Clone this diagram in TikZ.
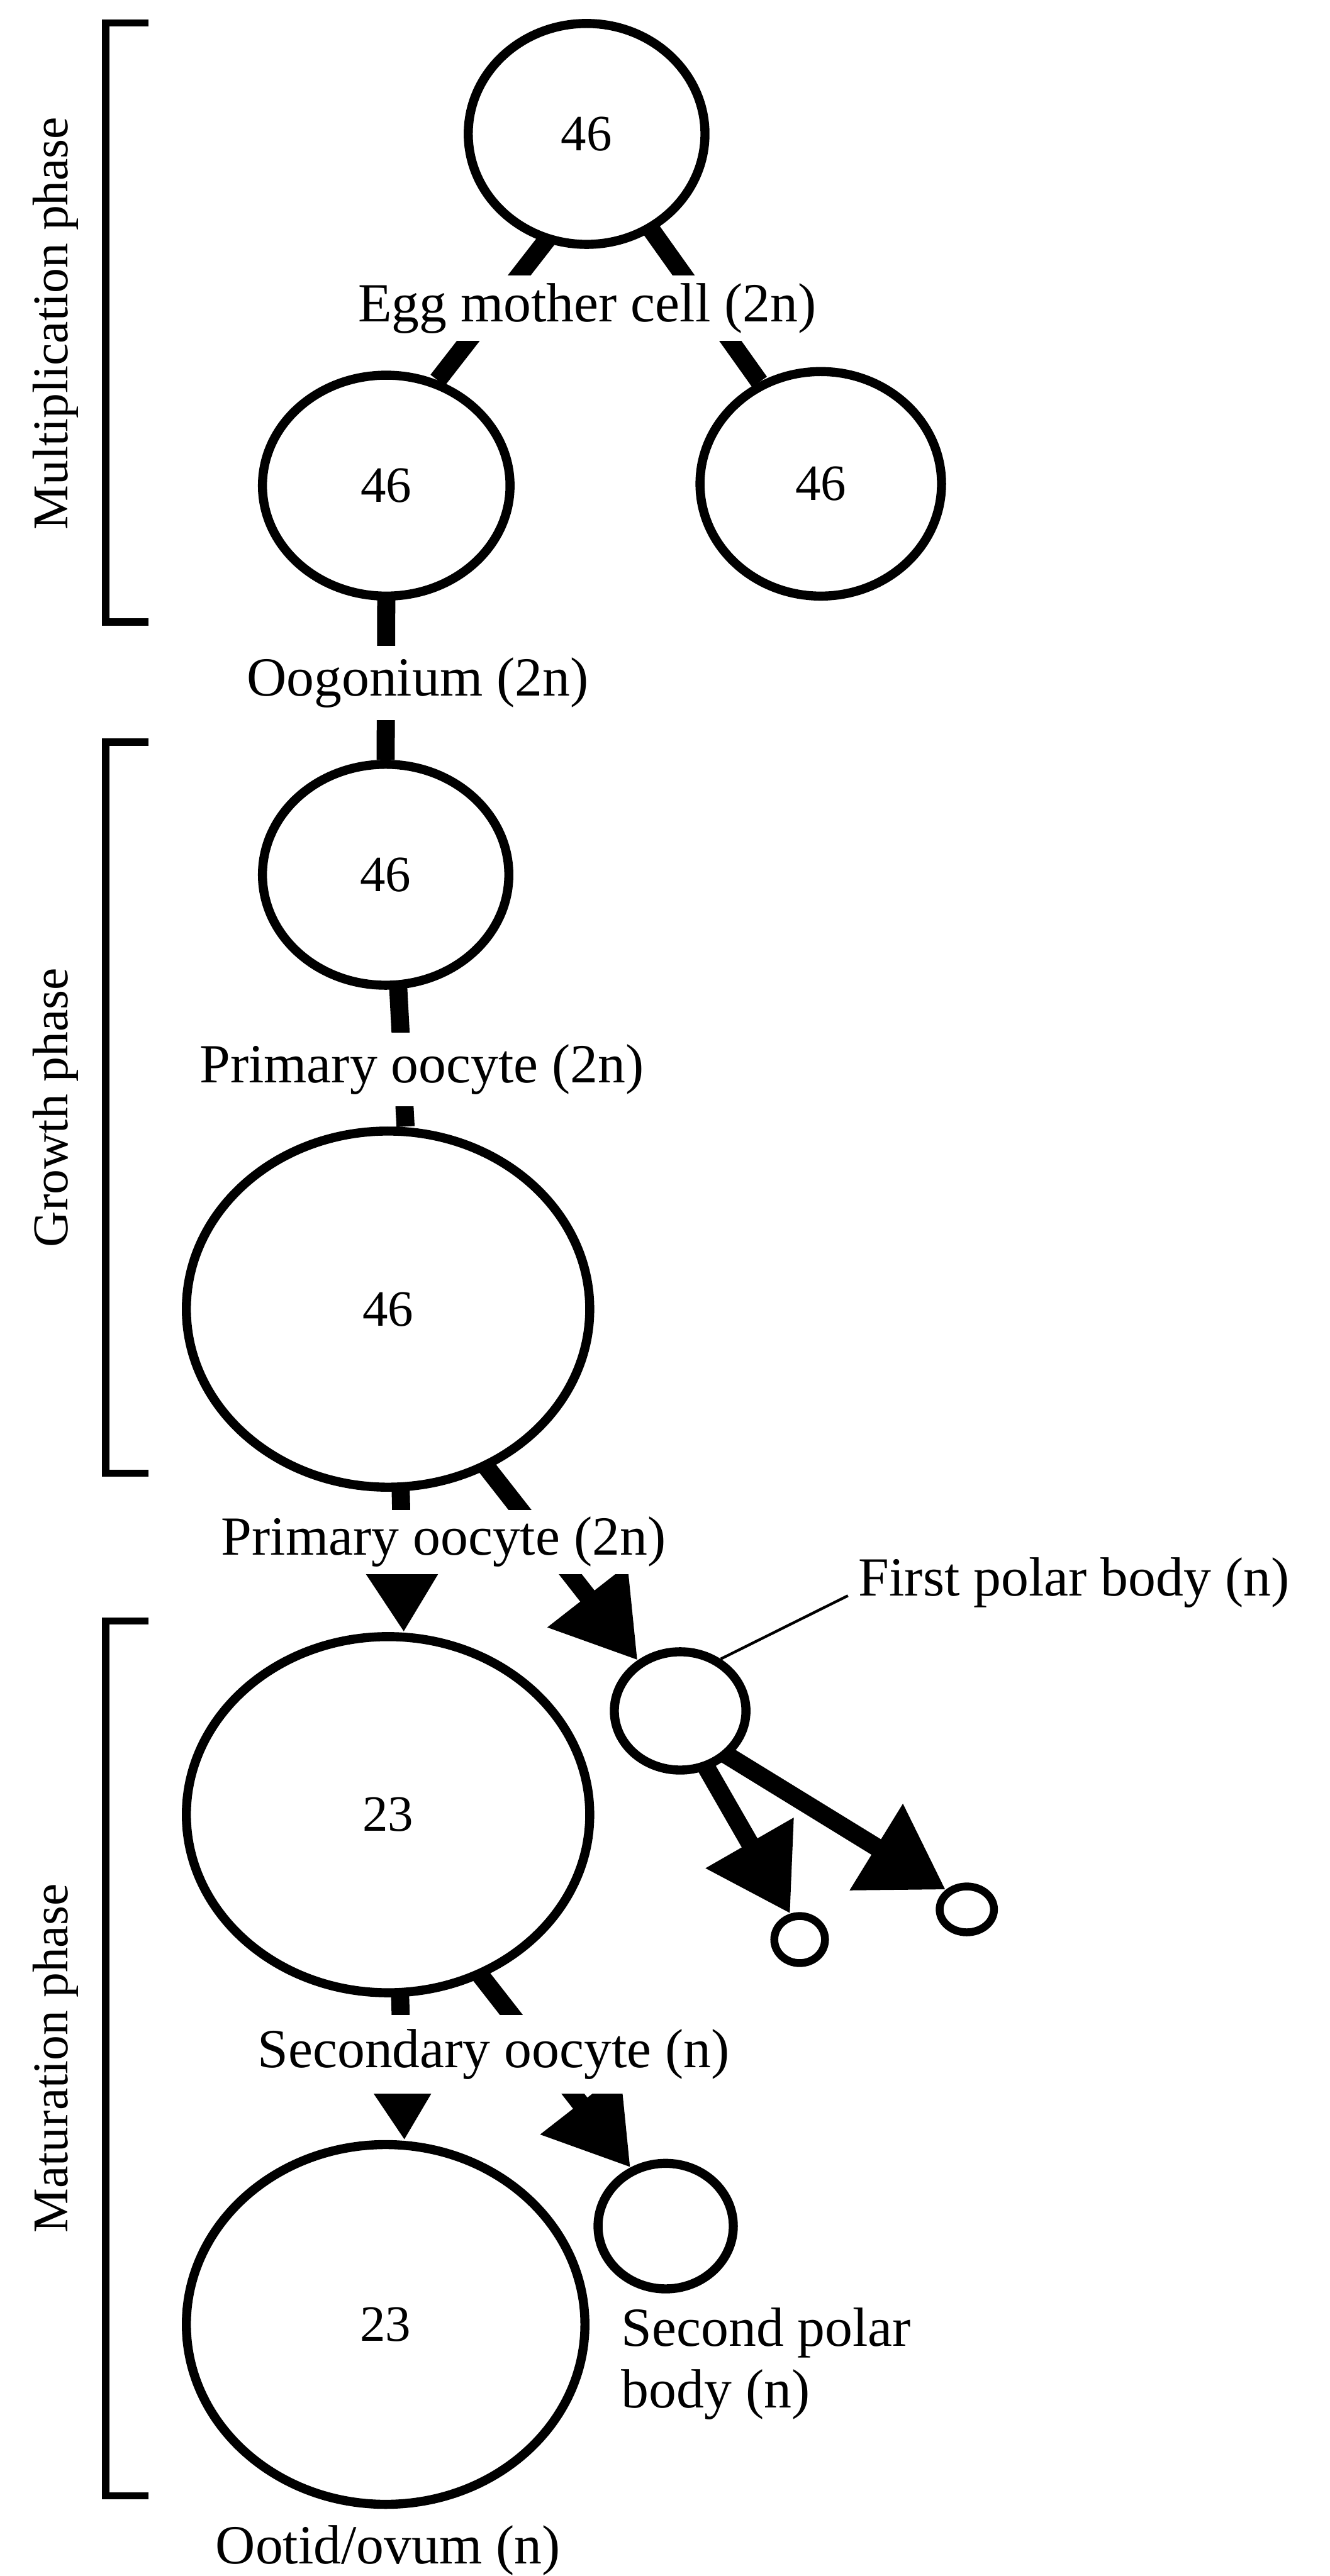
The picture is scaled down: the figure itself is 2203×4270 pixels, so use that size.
\documentclass[tikz,border=0pt]{standalone}
\usepackage{fontspec}
\setmainfont{Liberation Serif}
\usetikzlibrary{shapes.geometric,arrows.meta,backgrounds}
\begin{document}
\begin{tikzpicture}[x=0.01cm,y=-0.01cm,
  cell/.style={ellipse, draw, fill=white, line width=0.15cm, inner sep=0pt,
               font=\fontsize{24pt}{28pt}\selectfont},
  stalk/.style={line width=0.3cm, shorten <=-0.12cm},
  split/.style={stalk, -{Triangle[length=1.35cm,width=1.6cm]}},
  caption/.style={fill=white, inner xsep=0.1cm, inner ysep=0pt,
                  font=\fontsize{26pt}{29pt}\selectfont},
  phase/.style={rotate=90, inner sep=0pt, font=\fontsize{23.6pt}{27pt}\selectfont},
  bracket/.style={line width=0.12cm, line join=miter},
  leader/.style={line width=0.045cm}]

\path[use as bounding box] (0,0) rectangle (2203,4270);

% cells
\node[cell, minimum width=3.92cm, minimum height=3.66cm] (A) at (972,222) {46};
\node[cell, minimum width=4.10cm, minimum height=3.66cm] (B) at (640,805) {46};
\node[cell, minimum width=4.00cm, minimum height=3.72cm] (C) at (1360,802) {46};
\node[cell, minimum width=4.08cm, minimum height=3.66cm] (D) at (639,1450) {46};
\node[cell, minimum width=6.68cm, minimum height=5.90cm] (E) at (643,2170) {46};
\node[cell, minimum width=6.68cm, minimum height=5.90cm] (F) at (643,3008) {23};
\node[cell, minimum width=6.60cm, minimum height=5.96cm] (G) at (639,3853) {23};
\node[cell, minimum width=2.18cm, minimum height=1.96cm] (P1) at (1127,2836) {};
\node[cell, line width=0.13cm, minimum width=0.84cm, minimum height=0.78cm] (s1) at (1325,3215) {};
\node[cell, line width=0.13cm, minimum width=0.90cm, minimum height=0.76cm] (s2) at (1602,3165) {};
\node[cell, minimum width=2.24cm, minimum height=2.08cm] (P2) at (1103,3690) {};

% phase brackets
\draw[bracket] (246,38) -- (175,38) -- (175,1031) -- (246,1031);
\draw[bracket] (246,1230) -- (175,1230) -- (175,2442) -- (246,2442);
\draw[bracket] (246,2687) -- (175,2687) -- (175,4137) -- (246,4137);
\node[phase] (ph1) at (92,536) {Multiplication phase};
\node[phase] (ph2) at (92,1836) {Growth phase};
\node[phase] (ph3) at (92,3412) {Maturation phase};

% labels (white boxes interrupt the connectors)
\node[caption, minimum height=1.09cm] (lA) at (973,511) {Egg mother cell (2n)};
\node[caption, minimum height=1.23cm] (lB) at (692,1132) {Oogonium (2n)};
\node[caption, minimum height=1.22cm] (lD) at (699,1773) {Primary oocyte (2n)};
\node[caption, minimum height=1.07cm] (lE) at (735,2556) {Primary oocyte (2n)};
\node[caption, minimum height=1.30cm] (lF) at (818,3405) {Secondary oocyte (n)};
\node[caption, anchor=base] (lG) at (643,4250) {Ootid/ovum (n)};
\node[caption, anchor=base west, inner xsep=0pt] (lP1) at (1422,2645) {First polar body (n)};
\node[caption, anchor=north west, inner sep=0pt, align=left] (lP2) at (1029,3825) {Second polar\\body (n)};

% connectors
\begin{pgfonlayer}{background}
  \fill[white] (0,0) rectangle (2203,4270);
  \draw[stalk] (A.249.2) -- (B.64.9);
  \draw[stalk] (A.-56) -- (C.121);
  \draw[stalk] (B.south) -- (D.north);
  \draw[stalk] ([xshift=0.21cm]D.south) -- ([xshift=0.29cm]E.north);
  \draw[split] ([xshift=0.21cm]E.south) -- ([xshift=0.26cm]F.north);
  \draw[split] (E.-58) -- (P1.130.5);
  \draw[split] (P1.-65) -- (s1.110.7);
  \draw[split] (P1.-43.7) -- (s2.137);
  \draw[split] ([xshift=0.2cm]F.south) -- ([xshift=0.31cm]G.north);
  \draw[split] (F.-60.6) -- (P2.121.9);
  \draw[leader] (P1.52) -- ([xshift=-0.17cm]lP1.base west);
\end{pgfonlayer}
\end{tikzpicture}
\end{document}
